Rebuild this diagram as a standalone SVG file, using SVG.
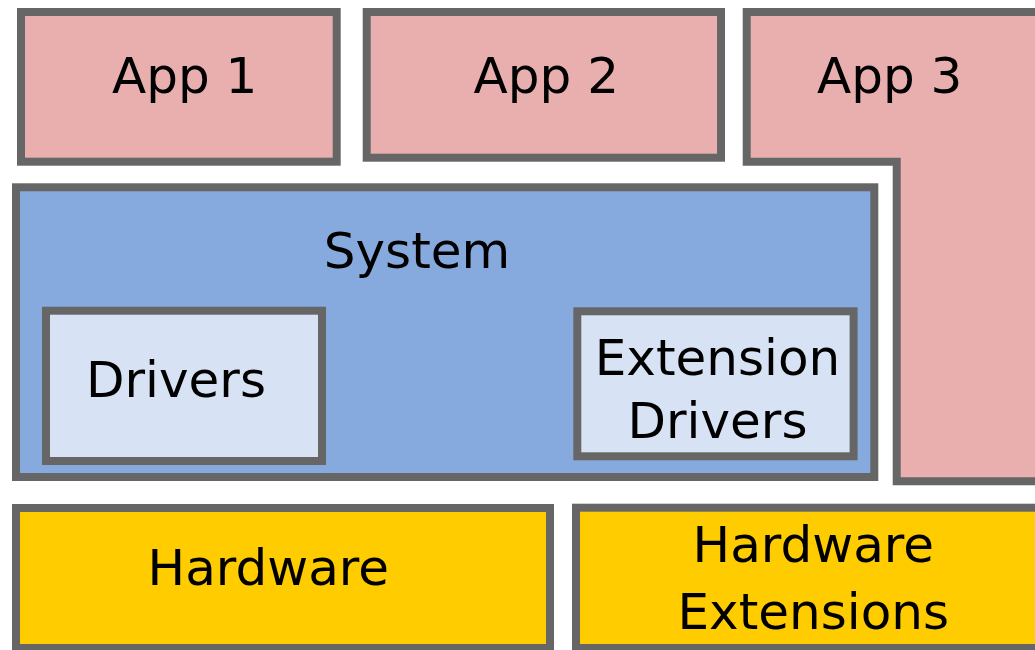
<svg xmlns="http://www.w3.org/2000/svg" width="1035" height="650" viewBox="0 0 1035 650">
  <style>
    .box { stroke: #666666; stroke-width: 8; }
    .app { fill: #e9afaf; }
    .sys { fill: #87aade; }
    .drv { fill: #d7e3f4; }
    .hw { fill: #ffcc00; }
    text { font-family: "DejaVu Sans", "Noto Sans", sans-serif; font-size: 50px; fill: #000000; text-anchor: middle; }
  </style>
  <rect width="1035" height="650" fill="#ffffff"/>

  <g id="app1">
    <rect class="box app" x="21" y="12" width="315.7" height="149.7"/>
    <text x="184.7" y="92.7">App 1</text>
  </g>

  <g id="app2">
    <rect class="box app" x="366.7" y="12" width="354.3" height="145.7"/>
    <text x="546.3" y="93.3">App 2</text>
  </g>

  <g id="app3">
    <path class="box app" d="M746.7,12 H1045 V481.3 H896.7 V161.7 H746.7 Z"/>
    <text x="889.7" y="92.7">App 3</text>
  </g>

  <g id="system">
    <rect class="box sys" x="16" y="187.3" width="858.3" height="289.7"/>
    <text x="417" y="268.3">System</text>
  </g>

  <g id="drivers">
    <rect class="box drv" x="46" y="310.7" width="276" height="150.3"/>
    <text x="176" y="396.7">Drivers</text>
  </g>

  <g id="extension-drivers">
    <rect class="box drv" x="577.3" y="311.3" width="276.3" height="145"/>
    <text x="717.5" y="375">Extension</text>
    <text x="717.5" y="438.3">Drivers</text>
  </g>

  <g id="hardware">
    <rect class="box hw" x="16" y="508" width="534" height="140"/>
    <text x="268.3" y="585">Hardware</text>
  </g>

  <g id="hardware-extensions">
    <rect class="box hw" x="576" y="507.7" width="470" height="140.3"/>
    <text x="813.3" y="561.7">Hardware</text>
    <text x="813.3" y="629.3">Extensions</text>
  </g>

  <g id="connectors"/>
</svg>
